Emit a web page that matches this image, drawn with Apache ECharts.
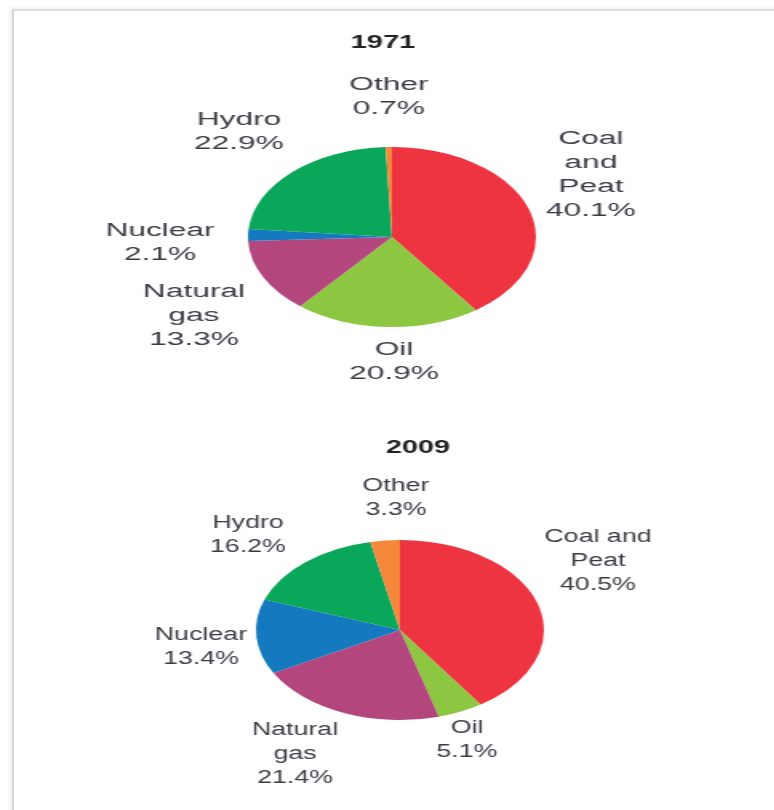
<!DOCTYPE html>
<html>
<head>
<meta charset="utf-8">
<title>Electricity generation by fuel, 1971 and 2009</title>
<script src="https://cdn.jsdelivr.net/npm/echarts@6/dist/echarts.min.js"></script>
<style>
  html, body {
    margin: 0;
    padding: 0;
    background: #fff;
    overflow: hidden;
  }
  .page {
    position: relative;
    width: 774px;
    height: 810px;
    overflow: hidden;
  }
  .frame {
    position: absolute;
    left: 12px;
    top: 9px;
    width: 800px;
    height: 850px;
    border-top: 2px solid #dedede;
    border-left: 2px solid #d6d6d6;
    box-shadow: -2px -1px 4px rgba(0, 0, 0, 0.08);
  }
  /* the source picture is stretched sideways, so the chart is too */
  #chart {
    position: absolute;
    left: 0;
    top: 0;
    width: 484px;
    height: 810px;
    transform: scaleX(1.6);
    transform-origin: 0 0;
  }
</style>
</head>
<body>
<div class="page">
  <div class="frame"></div>
  <div id="chart"></div>
</div>
<script>
const STRETCH = 1.6

const categories = ['Coal and Peat', 'Oil', 'Natural gas', 'Nuclear', 'Hydro', 'Other']
const share1971 = [40.1, 20.9, 13.3, 2.1, 22.9, 0.7]
const share2009 = [40.5, 5.1, 21.4, 13.4, 16.2, 3.3]

// how each name is broken over lines in the two pies
const names1971 = ['Coal\nand\nPeat', 'Oil', 'Natural\ngas', 'Nuclear', 'Hydro', 'Other']
const names2009 = ['Coal and\nPeat', 'Oil', 'Natural\ngas', 'Nuclear', 'Hydro', 'Other']

const colors = ['#ee3440', '#8dc640', '#b4467e', '#1479bf', '#0aa75a', '#f5873a']

// label block centres, in page pixels
const labelPos1971 = [[591, 175], [394, 362], [194, 316], [160, 243], [239, 132], [389, 97]]
const labelPos2009 = [[598, 561], [467, 740], [295, 754], [201, 647], [248, 535], [396, 498]]

const textColor = '#3b3b45'
const fontFamily = '"Liberation Sans", Arial, Helvetica, sans-serif'

const pieData = (shares) => categories.map((name, i) => ({
  name: name,
  value: shares[i],
  itemStyle: { color: colors[i] }
}))

const labelTexts = (names, shares, positions, sx) => names.map((name, i) => ({
  type: 'text',
  x: positions[i][0] / STRETCH,
  y: positions[i][1],
  scaleX: sx,
  style: {
    text: name + '\n' + shares[i].toFixed(1) + '%',
    x: 0,
    y: 0,
    align: 'center',
    verticalAlign: 'middle',
    lineHeight: 24,
    fill: textColor,
    font: '18px ' + fontFamily
  }
}))

const titleText = (text, x, y, sx) => ({
  type: 'text',
  x: x / STRETCH,
  y: y,
  scaleX: sx,
  style: {
    text: text,
    x: 0,
    y: 0,
    align: 'center',
    verticalAlign: 'middle',
    fill: '#222',
    font: 'bold 19px ' + fontFamily
  }
})

const pieSeries = (name, shares, center, radius) => ({
  name: name,
  type: 'pie',
  center: center,
  radius: radius,
  startAngle: 90,
  clockwise: true,
  silent: true,
  animation: false,
  label: { show: false },
  labelLine: { show: false },
  itemStyle: { borderWidth: 0 },
  data: pieData(shares)
})

const chart = echarts.init(document.getElementById('chart'), null, { renderer: 'canvas' })

chart.setOption({
  animation: false,
  series: [
    pieSeries('1971', share1971, [392 / STRETCH, 237], 90),
    pieSeries('2009', share2009, [400 / STRETCH, 630], 90)
  ],
  graphic: [
    titleText('1971', 383, 43, 0.95),
    titleText('2009', 418, 448, 0.95)
  ].concat(
    labelTexts(names1971, share1971, labelPos1971, 1.1),
    labelTexts(names2009, share2009, labelPos2009, 0.93)
  )
})
</script>
</body>
</html>
